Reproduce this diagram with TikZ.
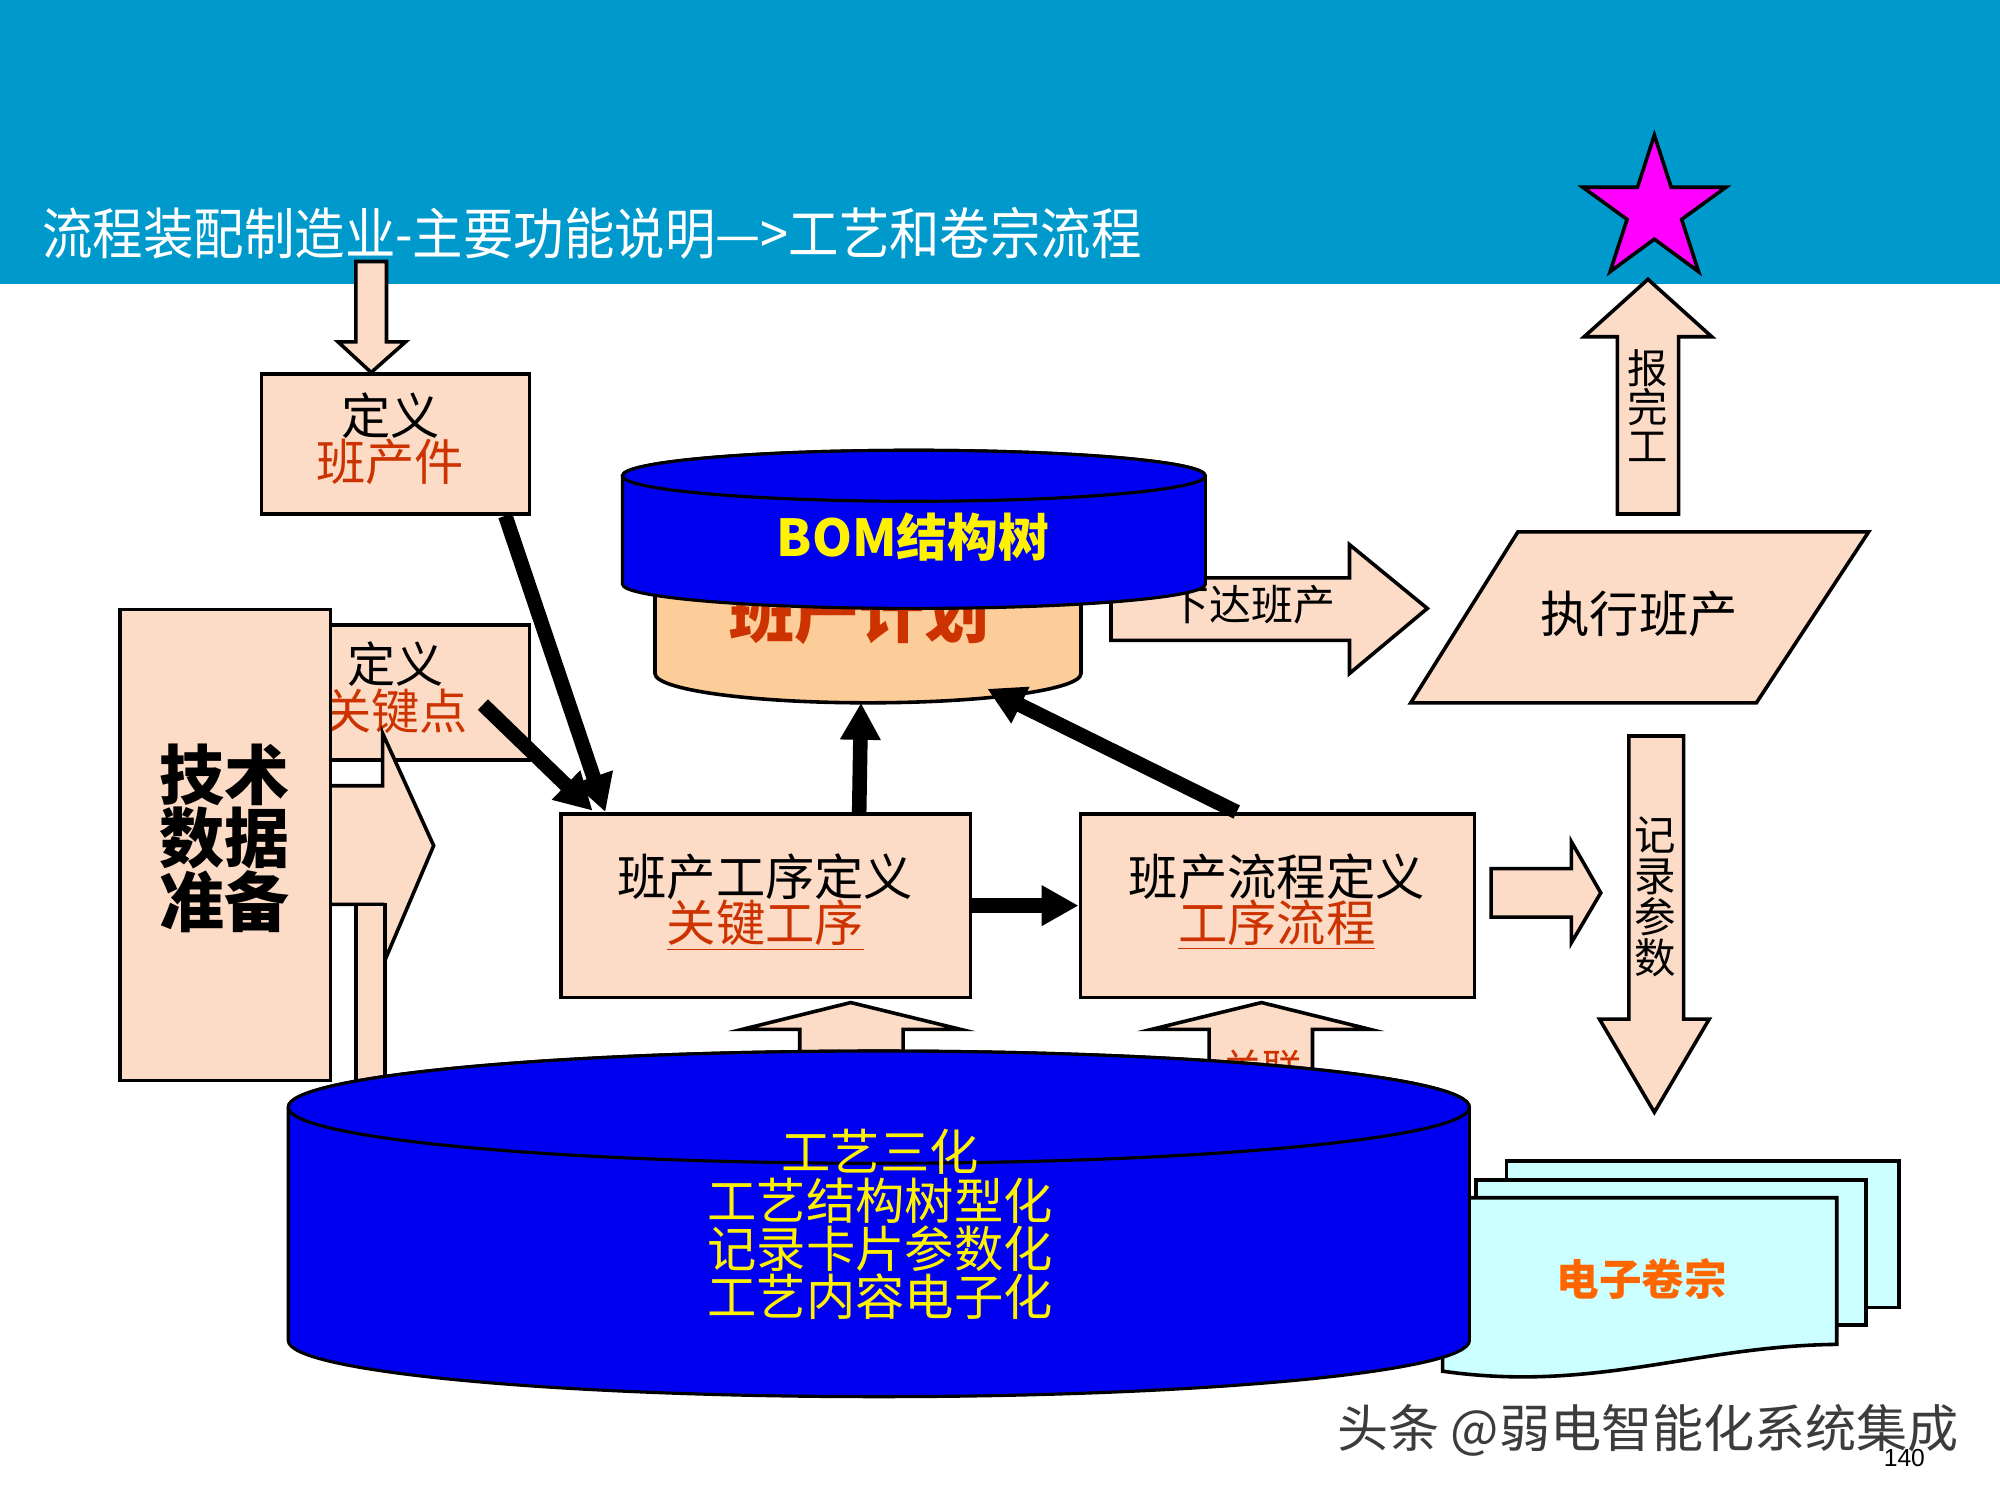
\documentclass[tikz,border=0pt]{standalone}
\usepackage{fontspec}
\setmainfont{Noto Sans CJK SC}
\newfontfamily\latinfont{Liberation Sans}
\usetikzlibrary{arrows.meta,calc,fit}
\newcommand\fsz[2]{\fontsize{#1}{#2}\selectfont}
\definecolor{hdr}{RGB}{0,153,204}
\definecolor{peach}{RGB}{252,220,198}
\definecolor{redt}{RGB}{204,51,0}
\definecolor{peachcyl}{RGB}{252,204,153}
\definecolor{cylblue}{RGB}{0,0,240}
\definecolor{docfill}{RGB}{204,255,255}
\definecolor{orangt}{RGB}{255,102,0}
\definecolor{starm}{RGB}{255,0,255}
\definecolor{wmgray}{RGB}{60,60,60}
\begin{document}
\begin{tikzpicture}[x=0.02cm,y=-0.02cm,
  outl/.style={draw=black,line width=1.6pt,line join=miter},
  barrow/.style={outl,fill=peach},
  pbox/.style={outl,fill=peach,inner sep=0pt},
  txt/.style={inner sep=0pt,font=\fsz{22pt}{20.6pt},align=center},
  smalltxt/.style={inner sep=0pt,font=\fsz{18.5pt}{18.4pt},align=center},
  blk/.style={line width=6.5pt,-{Triangle[length=0.58cm,width=0.6cm]}},
  cylb/.style={draw=black,line width=1.4pt,fill=cylblue},
  docsheet/.style={outl,fill=docfill}]
\useasboundingbox (0,0) rectangle (1568,1176);
% header
\fill[hdr] (0,0) rectangle (1568,223);
\node[anchor=west,text=white,inner sep=0pt,font=\fsz{22.5pt}{26pt}] (title) at (33,183) {\scalebox{1}[1.1]{流程装配制造业-主要功能说明—>工艺和卷宗流程}};
% star
\draw[outl,fill=starm] (1297,106) -- (1310.2,146.8) -- (1353.1,146.8) -- (1318.4,172.0) -- (1331.7,213) -- (1297,187.5) -- (1262.3,213) -- (1275.6,172.0) -- (1240.9,146.8) -- (1283.8,146.8) -- cycle;
% arrow from header
\draw[barrow] (279,205) -- (303,205) -- (303,268) -- (318,268) -- (291,292) -- (265,268) -- (279,268) -- cycle;
% define ban chan jian
\node[pbox,fit={(205,293)(415,403)}] (bcj) {};
\node[txt] (bcjt) at (306,344) {定义\\\textcolor{redt}{班产件}};
% define key point
\node[pbox,fit={(259,490)(415,596)}] (gjd) {};
\node[txt,font=\fsz{21.5pt}{19.6pt}] (gjdt) at (310,539) {定义\\\textcolor{redt}{关键点}};
% tech data arrow
\draw[barrow] (240,616) -- (300,616) -- (300,575) -- (340,663) -- (300,757) -- (300,709) -- (240,709) -- cycle;
\draw[barrow] (279,709) rectangle (302,880);
\node[pbox,fit={(94,478)(259,847)}] (jssj) {};
\node[inner sep=0pt,align=center,font=\bfseries\fsz{29pt}{28.4pt}] (jssjt) at (176,657) {技术\\数据\\准备};
% peach cylinder
\path[draw=black,line width=1.6pt,fill=peachcyl] (513.5,430) -- (513.5,528) arc[start angle=180,end angle=0,x radius=167,y radius=23] -- (847.5,430) -- cycle;
\node[inner sep=0pt,text=redt,font=\bfseries\fsz{29pt}{32pt}] (bcjh) at (674,481) {班产计划};
% xia da ban chan arrow
\draw[barrow] (871,453) -- (1058,453) -- (1058,427) -- (1119,477) -- (1058,528) -- (1058,502) -- (871,502) -- cycle;
\node[inner sep=0pt,font=\fsz{18.7pt}{22pt}] (xdbc) at (981,474) {下达班产};
% BOM cylinder
\path[cylb] (488,373) -- (488,458) arc[start angle=180,end angle=0,x radius=228.5,y radius=19] -- (945,373) arc[start angle=0,end angle=-180,x radius=228.5,y radius=20] -- cycle;
\draw[cylb] (716.5,373) ellipse[x radius=228.5,y radius=20];
\node[inner sep=0pt,text=yellow,font=\bfseries\fsz{22.7pt}{26pt}] (bom) at (716,421) {BOM结构树};
% execute
\draw[barrow] (1190,417) -- (1465,417) -- (1377,551) -- (1106,551) -- cycle;
\node[txt] (zxbc) at (1285,481) {执行班产};
% report done arrow
\draw[barrow] (1268,403) -- (1268,264) -- (1242,264) -- (1292,219) -- (1342,264) -- (1316,264) -- (1316,403) -- cycle;
\node[smalltxt,font=\fsz{18pt}{17.6pt}] (bwg) at (1292,318) {报\\完\\工};
% process boxes
\node[pbox,fit={(440,638)(761,782)}] (box1) {};
\node[txt,font=\fsz{22pt}{20.8pt}] (box1t) at (600,707) {班产工序定义\\\textcolor{redt}{\underline{关键工序}}};
\node[pbox,fit={(847,638)(1156,782)}] (box2) {};
\node[txt,font=\fsz{22pt}{20.8pt}] (box2t) at (1001,707) {班产流程定义\\\textcolor{redt}{\underline{工序流程}}};
% black arrows
\coordinate (a1s) at ($(bcj.south west)!0.905!(bcj.south east)$);
\coordinate (a1e) at ($(box1.north west)+(36,0)$);
\coordinate (a2s) at ($(gjd.south west)+(121,-45)$);
\coordinate (a2e) at ($(box1.north west)+(26,-1)$);
\coordinate (a3s) at ($(box1.north west)+(235,0)$);
\coordinate (a3e) at (675,551);
\coordinate (a4s) at ($(box2.north west)+(124,0)$);
\coordinate (a4e) at (774,540);
\draw[blk] (a1s) -- (a1e);
\draw[blk] (a2s) -- (a2e);
\draw[blk] (a3s) -- (a3e);
\draw[blk] (a4s) -- (a4e);
\draw[blk] (box1.east) -- (box2.west);
% right arrow
\draw[barrow] (1169,681) -- (1232,681) -- (1232,660) -- (1255,700) -- (1232,739) -- (1232,719) -- (1169,719) -- cycle;
% record params arrow
\draw[barrow] (1277,577) -- (1320,577) -- (1320,799) -- (1340,799) -- (1297,872) -- (1254,799) -- (1277,799) -- cycle;
\node[smalltxt] (jlcs) at (1298,703) {记\\录\\参\\数};
% up arrows under boxes
\draw[barrow] (627,880) -- (627,807) -- (582,807) -- (667,786) -- (753,807) -- (708,807) -- (708,880) -- cycle;
\node[inner sep=0pt,text=redt,font=\fsz{18pt}{20pt}] (gl1) at (667,838) {关联};
\draw[barrow] (948,880) -- (948,807) -- (903,807) -- (989,786) -- (1074,807) -- (1029,807) -- (1029,880) -- cycle;
\node[inner sep=0pt,text=redt,font=\fsz{18pt}{20pt}] (gl2) at (990,838) {关联};
% documents
\draw[docsheet] (1181,910) rectangle (1489,1025);
\draw[docsheet] (1157,925) rectangle (1463,1039);
\draw[docsheet] (1131,939) -- (1440,939) -- (1440,1054) .. controls (1330,1055) and (1250,1092) .. (1131,1075) -- cycle;
\node[inner sep=0pt,text=orangt,font=\bfseries\fsz{19pt}{22pt}] (dzjz) at (1287,1003) {电子卷宗};
% big cylinder
\path[cylb] (226,868) -- (226,1051) arc[start angle=180,end angle=0,x radius=463,y radius=44] -- (1152,868) arc[start angle=0,end angle=-180,x radius=463,y radius=44] -- cycle;
\draw[cylb] (689,868) ellipse[x radius=463,y radius=44];
\node[inner sep=0pt,align=center,text=yellow,font=\fsz{22pt}{21.5pt}] (gysh) at (690,960) {工艺三化\\工艺结构树型化\\记录卡片参数化\\工艺内容电子化};
% page number and watermark
\node[inner sep=0pt,font=\latinfont\fsz{11pt}{13pt}] (pg) at (1493,1143) {140};
\node[inner sep=0pt,text=wmgray,font=\fsz{22.8pt}{24pt}] (wm) at (1292,1121) {头条 @弱电智能化系统集成};
\end{tikzpicture}
\end{document}
